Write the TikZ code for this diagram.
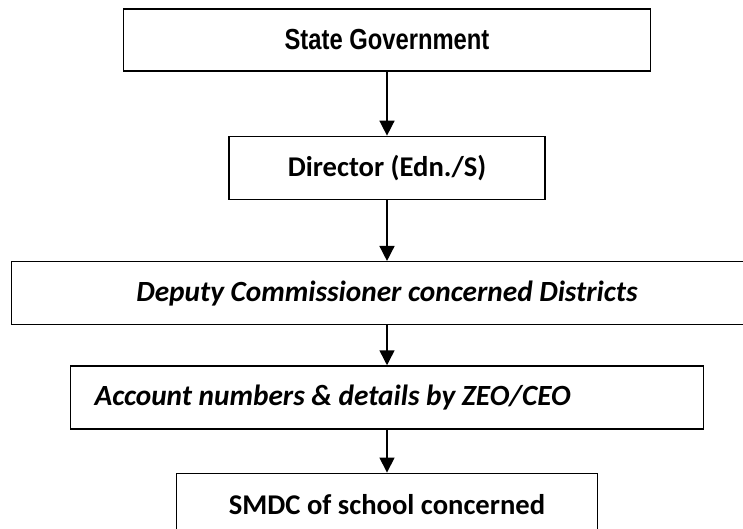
\documentclass[tikz,border=0pt]{standalone}
\usepackage{fontspec}
\setmainfont{Carlito}
\newfontfamily\narrowfont[FakeStretch=0.82]{Liberation Sans}
\usetikzlibrary{positioning, arrows.meta}

\begin{document}
\begin{tikzpicture}[node distance=62pt,
        govbox/.style={rectangle, minimum width=527pt, minimum height=62pt, align=center, draw=black, line width=1.3pt, font=\narrowfont\bfseries\fontsize{29}{34}\selectfont},
        officebox/.style={rectangle, minimum height=63pt, align=center, draw=black, line width=1.3pt, font=\bfseries\fontsize{28.6}{34}\selectfont},
        districtbox/.style={officebox, font=\bfseries\itshape\fontsize{29.3}{34}\selectfont},
        arrow/.style={line width=1.5pt, -{Triangle[width=15pt, length=15pt]}}]

        \useasboundingbox (0pt,0pt) rectangle (743pt,-529pt);

        % === top level ===
        \node (gov) [govbox] at (387pt,-40pt) {State Government};
        \node (director) [officebox, minimum width=316pt, below=64pt of gov] {Director (Edn./S)};

        % === district level ===
        \node (deputy) [districtbox, minimum width=751pt, below=61pt of director] {Deputy Commissioner concerned Districts};
        \node (account) [districtbox, text width=585pt, inner xsep=24pt, align=flush left, below=40pt of deputy] {Account numbers \& details by ZEO/CEO};

        % === school level ===
        \node (smdc) [officebox, minimum width=421pt, below=43pt of account] {SMDC of school concerned};

        \draw [arrow] (gov) -- (director);
        \draw [arrow] (director) -- (deputy);
        \draw [arrow] (deputy) -- (account);
        \draw [arrow] (account) -- (smdc);

\end{tikzpicture}
\end{document}
